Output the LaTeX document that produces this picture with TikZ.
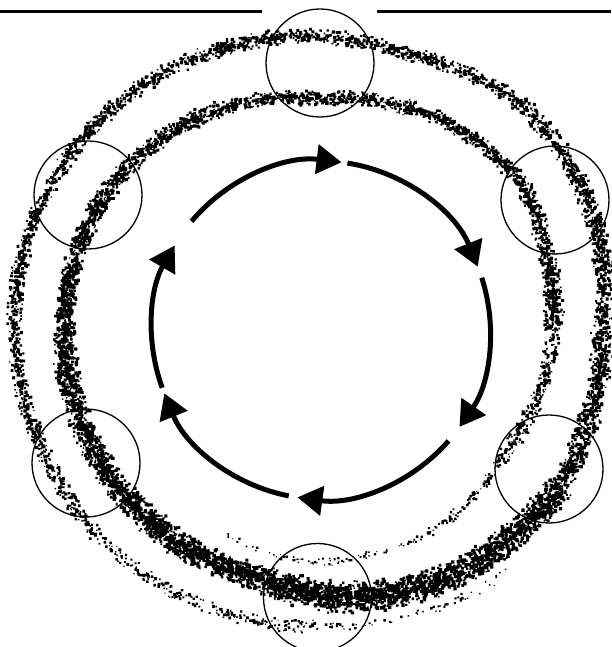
\documentclass[tikz,border=0pt]{standalone}
\usetikzlibrary{arrows.meta}
\tikzset{
  % --- thin probe circles on the orbit ---
  probe/.style={circle, draw=black, line width=1.3pt, minimum size=108pt,
                inner sep=0pt},
  % --- heavy cycle arrows ---
  cyclearrow/.style={line width=5pt, -{Triangle[length=25pt,width=29pt]}},
  framerule/.style={line width=3pt},
}
% one stretch of the stippled orbit: t0, r0, t1, r1, dots, spread, grain size
\newcount\stK
\newcommand\stipplearc[7]{%
  \pgfmathtruncatemacro\stN{#5*1.35}%
  \stK=0
  \loop
    \pgfmathsetmacro\stT{#1+rnd*(#3-#1)}%
    \pgfmathsetmacro\stA{270-\stT}%
    \pgfmathsetmacro\stR{#2+(\stT-#1)/(#3-#1)*(#4-#2)+1.2*#6*(rand+rand)/2}%
    \pgfmathsetmacro\stD{#7*(1.2+1.9*rnd)}%
    \pgfpathrectangle{\pgfpointpolarxy{\stA}{\stR}}{\pgfqpoint{\stD pt}{\stD pt}}%
    \advance\stK by 1
  \ifnum\stK<\stN\repeat
  \pgfusepath{fill}}

\begin{document}
\begin{tikzpicture}[x=1pt,y=1pt]
  \useasboundingbox (0,0) rectangle (611,647);
  \pgfmathsetseed{2718}
  \coordinate (orbit) at (307,316);
  \coordinate (hub) at (321,317);

  % stippled orbit, a spiral of two turns
  \begin{scope}[shift={(orbit)}]
    \foreach \ta/\ra/\tb/\rb/\nd/\sp/\dt in {
        -40/314/-2/296/45/4/0.85, -2/296/46/294/160/6/0.95,
        46/294/66/291/120/7/1.0, 66/291/90/294/190/7/1.05,
        90/294/119/296/230/7/1.05, 119/296/200/293/620/7/1.05,
        200/293/222/310/170/7/1.05, 222/310/242/309/190/8/1.05,
        242/309/256/303/150/9/1.1, 256/303/270/294/150/9/1.1,
        270/294/302/296/380/10/1.1, 302/296/330/285/540/13/1.15,
        330/285/356/267/590/14/1.15, 356/267/371/253/330/14/1.15,
        371/253/407/247/660/12/1.15, 407/247/418/246/170/11/1.1,
        418/246/450/244/460/11/1.1, 450/244/486/244/420/9/1.1,
        486/244/513/239/250/8/1.05, 513/239/543/231/230/7/1.0,
        543/231/572/249/230/7/1.0, 572/249/596/259/220/7/1.05,
        596/259/612/250/150/8/1.05, 612/250/630/245/190/9/1.05,
        630/245/664/232/180/7/1.0, 664/232/683/237/50/5/0.9,
        683/237/697/235/25/4/0.85, 697/235/719/231/28/4/0.85,
        719/231/743/220/22/3/0.8}
      {\stipplearc{\ta}{\ra}{\tb}{\rb}{\nd}{\sp}{\dt}}
  \end{scope}

  % rules at the top
  \draw[framerule] (0,635) -- (262,635);
  \draw[framerule] (377,635) -- (611,635);

  % probe circles
  \node[probe] (ptop)   at (320,584) {};
  \node[probe] (pupl)   at (88,452) {};
  \node[probe] (pupr)   at (555,447) {};
  \node[probe] (plowl)  at (86,184) {};
  \node[probe] (plowr)  at (549,178) {};
  \node[probe] (pbot)   at (317.5,49.5) {};

  % cycle of arrows
  \foreach \a/\b in {140/83, 81/22, 18/-35, -41/-98, -101/-158, -160/-210}
    \draw[cyclearrow] ([shift={(hub)}]\a:169) arc[start angle=\a, end angle=\b, radius=169];
\end{tikzpicture}
\end{document}
